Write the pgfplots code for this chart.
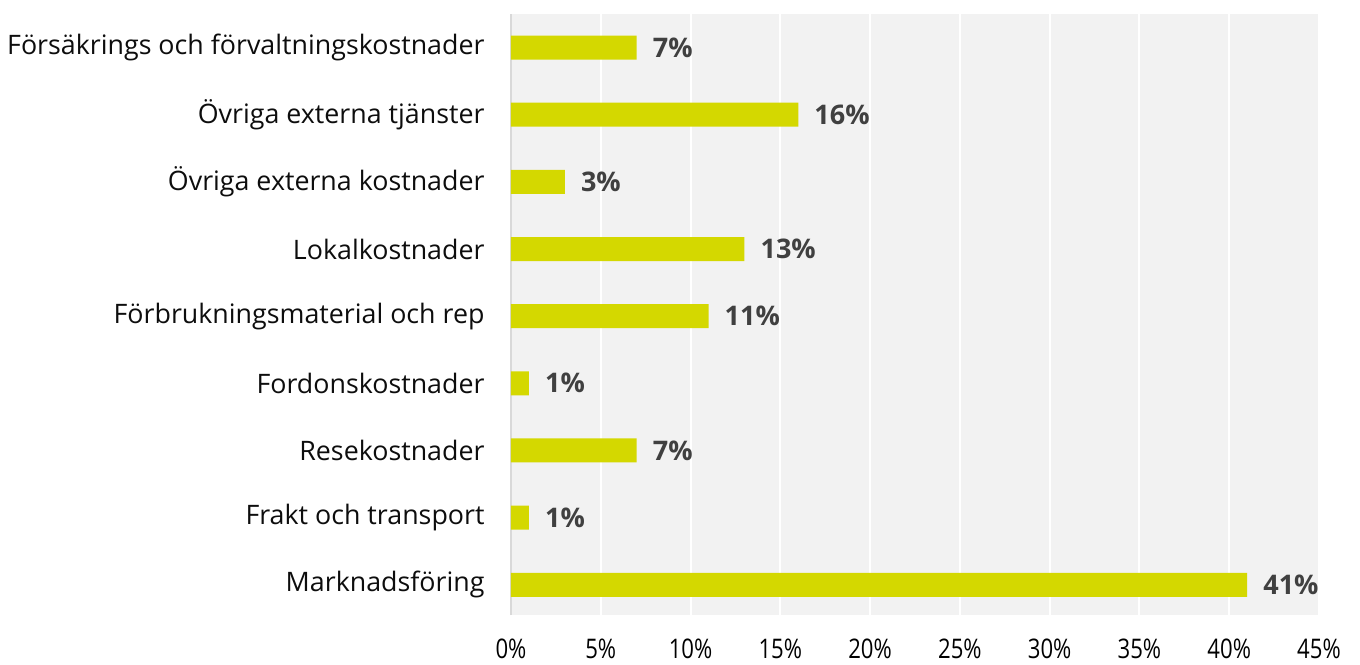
\documentclass[border=0pt]{standalone}
\usepackage{pgfplots}
\pgfplotsset{compat=1.18}
\usepackage{fontspec}
\setmainfont{Open Sans}
\definecolor{barc}{HTML}{D4D800}
\definecolor{bgc}{HTML}{F2F2F2}
\definecolor{labc}{HTML}{404040}
\definecolor{axc}{HTML}{D9D9D9}

\begin{document}
\begin{tikzpicture}
\useasboundingbox (-511pt,-49pt) rectangle (849pt,615pt);
\begin{axis}[
  at={(0,0)}, anchor=south west,
  scale only axis, width=808pt, height=601pt,
  xmin=0, xmax=45, ymin=-0.45, ymax=8.5,
  xbar, bar width=24pt,
  axis background/.style={fill=bgc},
  axis line style={draw=none},
  xmajorgrids, grid style={white, line width=2pt},
  xtick={0,5,...,45},
  extra x ticks={0}, extra x tick labels={},
  extra x tick style={grid style={axc, line width=2pt}},
  ytick={0,...,8},
  yticklabels={Marknadsföring, Frakt och transport, Resekostnader, Fordonskostnader,
    Förbrukningsmaterial och rep, Lokalkostnader, Övriga externa kostnader,
    Övriga externa tjänster, Försäkrings och förvaltningskostnader},
  tick style={draw=none},
  /pgf/number format/assume math mode=true,
  xticklabel={\scalebox{0.82}[1]{\pgfmathprintnumber{\tick}\%}},
  xticklabel style={font=\fontsize{27}{32}\selectfont, text=black, anchor=north, inner sep=0pt, yshift=-24pt},
  yticklabel style={font=\fontsize{26.8}{32}\selectfont, text=black!95, anchor=east, inner sep=0pt, xshift=-22pt},
  nodes near coords={\pgfmathprintnumber{\pgfplotspointmeta}\%},
  nodes near coords style={font=\bfseries\fontsize{27}{32}\selectfont, text=labc, anchor=west, inner sep=0pt, xshift=16pt},
]
\addplot[fill=barc, draw=none] coordinates {
  (41,0) (1,1) (7,2) (1,3) (11,4) (13,5) (3,6) (16,7) (7,8)};
\end{axis}
\end{tikzpicture}
\end{document}
